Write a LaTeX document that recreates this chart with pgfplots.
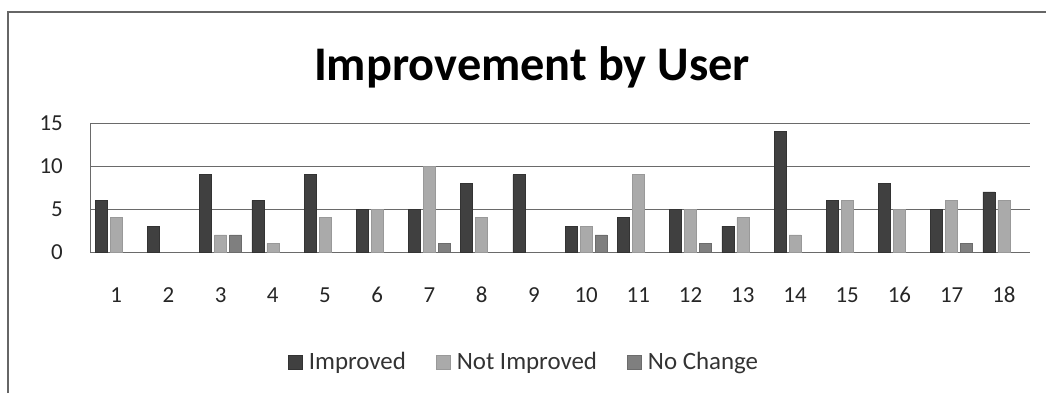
\documentclass[border=0pt]{standalone}
\usepackage{pgfplots}
\pgfplotsset{compat=1.18}
\usepackage{fontspec}
\setmainfont{Carlito}
\definecolor{cImp}{HTML}{404040}
\definecolor{cNot}{HTML}{AAAAAA}
\definecolor{cNo}{HTML}{7F7F7F}
\definecolor{cGrid}{HTML}{6A6A6A}
\begin{document}
\begin{tikzpicture}[x=1bp,y=1bp]
\useasboundingbox (0,0) rectangle (1046,393);
\draw[color=gray!80!black, line width=1.6bp] (8,0) -- (8,381) -- (1046,381);
\begin{axis}[
  at={(90bp,141bp)}, anchor=south west,
  scale only axis, width=940bp, height=129bp,
  xmin=0.5, xmax=18.5, ymin=0, ymax=15,
  ybar=3bp, bar width=12bp,
  xtick={1,...,18}, ytick={0,5,10,15},
  ymajorgrids, grid style={cGrid, line width=0.8bp},
  axis x line*=bottom, axis y line*=left,
  axis line style={cGrid, line width=0.8bp, -},
  major tick length=0pt,
  /pgf/number format/assume math mode=true,
  tick label style={font=\fontsize{23}{25}\selectfont, text=black!85},
  xticklabel style={anchor=center, yshift=-43bp},
  yticklabel style={anchor=east, inner sep=0pt, xshift=-27bp},
  legend style={at={(0.4617,-0.853)}, anchor=center, draw=none, fill=none,
    legend columns=3, font=\fontsize{25}{27}\selectfont, text=black!80,
    /tikz/every odd column/.append style={column sep=4.5bp},
    /tikz/every even column/.append style={column sep=28bp}},
  legend image code/.code={\fill[#1] (0bp,-7bp) rectangle (14bp,7bp);},
]
\addplot[fill=cImp, draw=cImp!80!black] coordinates {(1,6) (2,3) (3,9) (4,6) (5,9) (6,5) (7,5) (8,8) (9,9) (10,3) (11,4) (12,5) (13,3) (14,14) (15,6) (16,8) (17,5) (18,7)};
\addplot[fill=cNot, draw=cNot!90!black] coordinates {(1,4) (3,2) (4,1) (5,4) (6,5) (7,10) (8,4) (10,3) (11,9) (12,5) (13,4) (14,2) (15,6) (16,5) (17,6) (18,6)};
\addplot[fill=cNo, draw=cNo!85!black] coordinates {(3,2) (7,1) (10,2) (12,1) (17,1)};
\legend{Improved, Not Improved, No Change}
\end{axis}
\node[font=\bfseries\fontsize{48.5}{51}\selectfont, anchor=base, inner sep=0pt] at (532,313) {Improvement by User};
\end{tikzpicture}
\end{document}
